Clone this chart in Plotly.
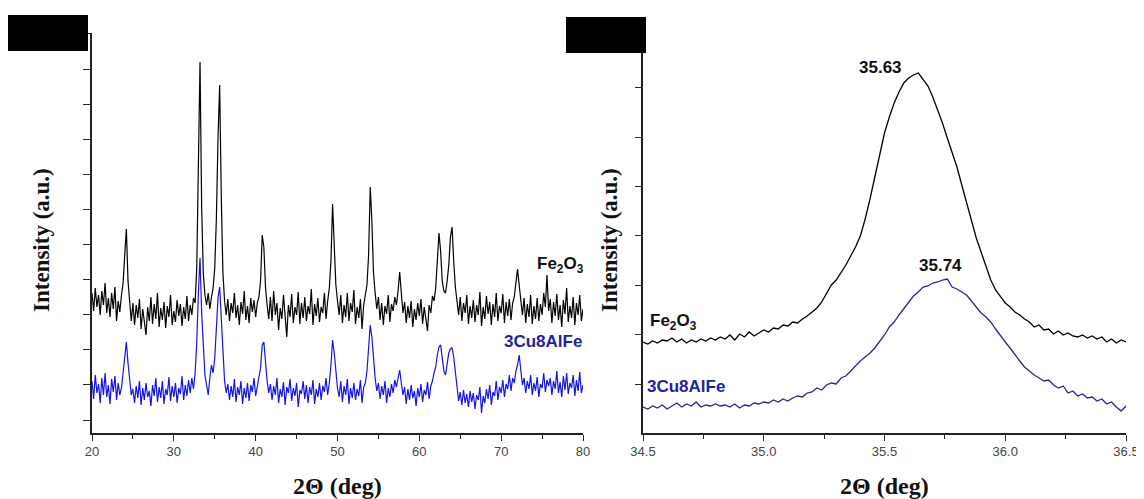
import numpy as np
import plotly.graph_objects as go

# ---------------- data: wide scan (2theta 20..80, step 0.2) ----------------
wide_start, wide_step = 20.0, 0.2
fe2o3_wide = [
    140,122,145,126,138,118,142,128,150,120,
    135,116,140,124,146,112,132,121,138,150,
    178,204,152,128,112,130,108,128,115,134,
    104,124,110,98,126,112,136,109,129,114,
    140,106,125,113,131,105,127,116,138,108,
    122,111,133,117,129,107,126,114,137,112,
    128,118,135,130,165,255,371,225,160,138,
    128,140,124,136,145,165,215,295,348,235,
    160,132,118,134,112,130,120,140,115,128,
    108,131,119,142,113,127,110,135,121,133,
    116,130,136,152,198,186,146,128,114,136,
    112,142,118,130,103,125,114,138,120,96,
    128,116,139,110,126,118,141,109,130,115,
    136,112,127,119,144,108,129,117,135,111,
    126,120,140,114,132,145,172,229,188,148,
    132,118,138,110,128,116,140,112,130,121,
    143,109,126,115,134,104,128,138,148,178,
    246,212,160,140,124,136,113,130,108,127,
    119,138,111,129,122,136,128,142,161,140,
    120,131,110,127,115,132,106,124,113,130,
    117,134,109,126,114,102,128,120,137,132,
    145,172,200,182,152,142,140,152,168,196,
    206,172,146,132,118,136,112,130,120,138,
    109,127,115,133,111,128,118,141,107,126,
    114,137,119,131,108,129,116,140,112,127,
    120,139,110,131,117,134,113,130,136,150,
    164,148,134,118,135,110,129,116,138,109,
    127,114,135,112,129,118,140,126,158,122,
    134,110,131,117,139,113,128,106,133,119,
    145,111,127,115,136,108,130,118,138,112,
    124,
]
cu_wide = [
    52,34,58,40,49,30,55,38,60,36,
    48,29,54,41,57,33,50,38,45,62,
    80,91,70,50,38,44,30,47,35,52,
    28,45,33,50,36,42,27,48,37,55,
    31,46,35,52,29,44,38,56,32,47,
    36,50,30,45,39,57,33,48,37,53,
    40,55,44,60,90,140,175,120,80,58,
    48,38,55,68,60,75,105,135,146,110,
    72,52,40,49,33,47,36,54,31,46,
    38,52,29,45,35,50,32,48,41,55,
    37,49,56,65,88,91,70,52,40,49,
    33,47,38,55,30,44,36,51,28,46,
    40,54,32,45,37,50,26,43,39,52,
    34,48,30,46,38,53,29,44,36,50,
    33,47,41,55,38,50,68,93,80,58,
    45,36,52,31,47,38,54,29,45,35,
    50,33,44,37,53,30,46,50,62,85,
    108,96,72,55,42,50,34,47,38,52,
    30,45,36,49,40,53,46,55,63,50,
    38,46,29,44,33,48,35,42,27,45,
    36,49,31,43,38,51,34,47,52,60,
    66,78,86,88,74,62,58,68,80,84,
    85,76,60,44,32,41,28,43,30,39,
    26,42,31,40,24,38,33,46,20,37,
    30,44,34,48,28,41,37,52,33,46,
    40,53,36,49,44,58,42,55,50,62,
    68,78,60,48,55,40,52,44,58,38,
    50,42,56,36,49,45,60,41,53,47,
    55,38,52,44,62,40,51,36,57,43,
    60,39,50,45,58,37,53,42,61,40,
    48,
]

# ---------------- data: narrow scan (2theta 34.5..36.5, step 0.02) ----------------
narrow_start, narrow_step = 34.5, 0.02
fe2o3_narrow = [
    91,89,92,90,93,92,95,91,94,90,93,91,94,92,95,93,96,94,98,93,99,96,101,97,100,
    103,101,105,104,108,107,111,110,114,117,121,125,131,139,148,153,160,168,177,186,
    197,214,234,257,279,300,316,330,341,350,355,358,360,354,347,336,324,310,295,281,
    266,248,230,212,195,181,168,153,143,136,
    130,126,121,118,114,111,106,108,103,104,99,102,98,100,97,96,98,95,97,94,96,91,94,90,93,91,
]
cu_narrow = [
    26,24,27,25,28,24,27,30,26,29,27,31,26,28,27,29,27,28,26,29,25,28,27,30,29,
    31,30,33,31,34,32,35,37,36,40,41,45,43,48,50,49,55,57,62,68,72,76,80,85,91,
    98,106,111,118,124,130,137,141,146,147,150,151,153,154,146,144,141,138,132,126,
    120,116,111,104,97,
    91,85,78,72,66,62,58,55,52,53,48,45,47,40,42,37,39,35,36,32,34,29,31,26,22,27,
]

peak_labels = ["35.63", "35.74"]
series_names = ["Fe<sub>2</sub>O<sub>3</sub>", "3Cu8AlFe"]

assert len(fe2o3_wide) == 301 and len(cu_wide) == 301
assert len(fe2o3_narrow) == 101 and len(cu_narrow) == 101

x_wide = np.round(wide_start + wide_step * np.arange(len(fe2o3_wide)), 3)
x_narrow = np.round(narrow_start + narrow_step * np.arange(len(fe2o3_narrow)), 3)

# the page body has an 8 px margin, so the figure is 8 px smaller and shifted
OFF = 8
W, H = 1144 - OFF, 499 - OFF
def px(x):
    return (x - OFF) / W
def py(y):
    return 1 - (y - OFF) / H

fig = go.Figure()
fig.add_trace(go.Scatter(x=x_wide, y=fe2o3_wide, mode="lines",
                         line=dict(color="#000000", width=1.2), xaxis="x", yaxis="y"))
fig.add_trace(go.Scatter(x=x_wide, y=cu_wide, mode="lines",
                         line=dict(color="#1414e6", width=1.2), xaxis="x", yaxis="y"))
fig.add_trace(go.Scatter(x=x_narrow, y=fe2o3_narrow, mode="lines",
                         line=dict(color="#000000", width=1.3), xaxis="x2", yaxis="y2"))
fig.add_trace(go.Scatter(x=x_narrow, y=cu_narrow, mode="lines",
                         line=dict(color="#2a2a8c", width=1.3), xaxis="x2", yaxis="y2"))

axis_common = dict(showgrid=False, zeroline=False, showline=True, linecolor="#222222",
                   linewidth=1.6, ticks="outside", tickcolor="#222222", tickwidth=1.3,
                   automargin=False)
tickfont = dict(family="Liberation Sans, Arial", size=13, color="#444444")

fig.update_layout(
    width=W, height=H, showlegend=False,
    paper_bgcolor="white", plot_bgcolor="white",
    margin=dict(l=0, r=0, t=0, b=0, autoexpand=False),
    xaxis=dict(domain=[px(92), px(583)], range=[20, 80], tick0=20, dtick=10, ticklen=6,
               tickfont=tickfont, anchor="y",
               minor=dict(ticks="outside", dtick=5, ticklen=4, tickcolor="#222222"),
               **axis_common),
    yaxis=dict(domain=[py(433), py(33)], range=[0, 400], tick0=13, dtick=35.1, ticklen=7,
               showticklabels=False, anchor="x", **axis_common),
    xaxis2=dict(domain=[px(643), px(1126)], range=[34.5, 36.5], tick0=34.5, dtick=0.5,
                ticklen=6, tickfont=tickfont, anchor="y2", tickformat=".1f",
                minor=dict(ticks="outside", dtick=0.25, ticklen=4, tickcolor="#222222"),
                **axis_common),
    yaxis2=dict(domain=[py(433), py(33)], range=[0, 400], tick0=49, dtick=49.4, ticklen=6,
                showticklabels=False, anchor="x2", **axis_common),
)

title_font = dict(family="Liberation Serif, Times New Roman", size=23, color="#111111")
lab_font = dict(family="Liberation Sans, Arial", size=17, color="#111111")
blue_font = dict(family="Liberation Sans, Arial", size=17, color="#23239c")

ann = [
    dict(x=px(42), y=py(240), text="<b>Intensity (a.u.)</b>", textangle=-90, font=title_font),
    dict(x=px(610), y=py(240), text="<b>Intensity (a.u.)</b>", textangle=-90, font=title_font),
    dict(x=px(337), y=py(486), text="<b>2Θ (deg)</b>", font=dict(title_font, size=24)),
    dict(x=px(884), y=py(486), text="<b>2Θ (deg)</b>", font=dict(title_font, size=24)),
    dict(x=px(586), y=py(265), text="<b>" + series_names[0] + "</b>", xanchor="right", font=lab_font),
    dict(x=px(584), y=py(341), text="<b>" + series_names[1] + "</b>", xanchor="right", font=blue_font),
    dict(x=px(648), y=py(322), text="<b>" + series_names[0] + "</b>", xanchor="left", font=lab_font),
    dict(x=px(645), y=py(386), text="<b>" + series_names[1] + "</b>", xanchor="left", font=blue_font),
    dict(x=px(880), y=py(67), text="<b>" + peak_labels[0] + "</b>", font=lab_font),
    dict(x=px(940), y=py(265), text="<b>" + peak_labels[1] + "</b>", font=lab_font),
]
for a in ann:
    a.update(xref="paper", yref="paper", showarrow=False)
    a.setdefault("xanchor", "center")
    a.setdefault("yanchor", "middle")
fig.update_layout(annotations=ann)

fig.update_layout(shapes=[
    dict(type="rect", xref="paper", yref="paper", x0=px(8), x1=px(88), y0=py(51), y1=py(15),
         fillcolor="black", line=dict(width=0), layer="above"),
    dict(type="rect", xref="paper", yref="paper", x0=px(566), x1=px(646), y0=py(53), y1=py(17),
         fillcolor="black", line=dict(width=0), layer="above"),
])

fig.write_html("out.html")
